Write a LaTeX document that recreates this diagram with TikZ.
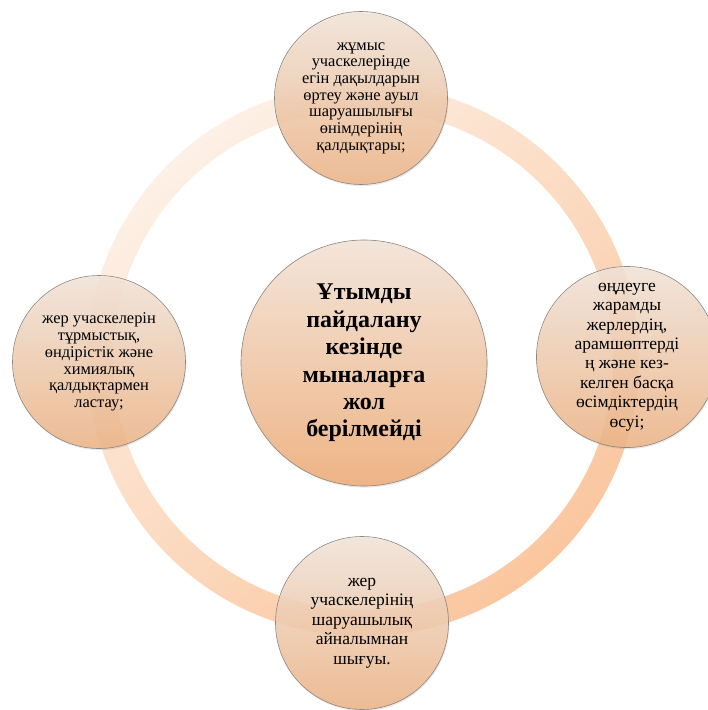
\documentclass[tikz,border=0pt]{standalone}
\usepackage{fontspec}
\setmainfont{Liberation Serif}
\usetikzlibrary{shadows}
\definecolor{ringlight}{RGB}{253,240,230}
\definecolor{ringdark}{RGB}{250,198,158}
\definecolor{ballTop}{RGB}{243,229,218}
\definecolor{ballBottom}{RGB}{238,180,134}
\definecolor{ballEdge}{RGB}{140,134,128}

\tikzset{
  ball/.style={circle, draw=ballEdge, line width=0.6pt, top color=ballTop, bottom color=ballBottom,
    inner sep=0pt, align=center, text=black,
    drop shadow={opacity=0.18, shadow xshift=0.8pt, shadow yshift=-1.6pt}},
  sideball/.style={ball, minimum size=173pt, fill opacity=0.86, text opacity=1,
    font=\fontsize{16.4}{16.7}\selectfont},
  wideball/.style={sideball, font=\fontsize{17.5}{19.4}\selectfont},
  hubball/.style={ball, minimum size=246pt, font=\fontsize{24}{27.4}\selectfont\bfseries}
}

\begin{document}
\begin{tikzpicture}[x=1pt, y=-1pt]
    \useasboundingbox (0,0) rectangle (708,710);

    % the ring behind the circles
    \coordinate (ringc) at (363,360);
    \shade[even odd rule, top color=ringlight, bottom color=ringdark, shading angle=40]
        (ringc) circle (276pt) (ringc) circle (250pt);

    % four outer circles
    \node[sideball] (burning) at (361,98)
        {жұмыс\\учаскелерінде\\егін дақылдарын\\өртеу және ауыл\\шаруашылығы\\өнімдерінің\\қалдықтары;};
    \node[wideball] (weeds) at (627,357)
        {өңдеуге\\жарамды\\жерлердің,\\арамшөптерді\\ң және кез-\\келген басқа\\өсімдіктердің\\өсуі;};
    \node[wideball] (leaving) at (362,623)
        {жер\\учаскелерінің\\шаруашылық\\айналымнан\\шығуы.};
    \node[sideball] (waste) at (99,362)
        {жер учаскелерін\\тұрмыстық,\\өндірістік және\\химиялық\\қалдықтармен\\ластау;};

    % central circle
    \node[hubball] (hub) at (364,363)
        {Ұтымды\\пайдалану\\кезінде\\мыналарға\\жол\\берілмейді};
\end{tikzpicture}
\end{document}
